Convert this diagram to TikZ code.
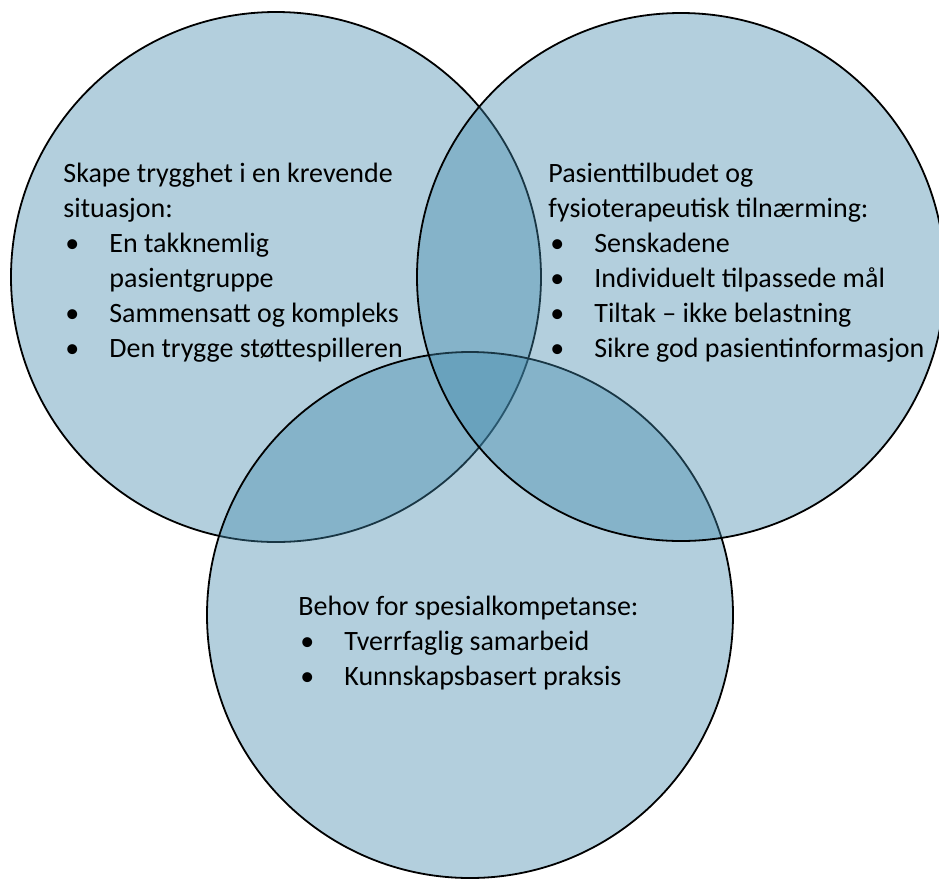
\documentclass[tikz,border=0pt]{standalone}
\usepackage{fontspec}
\setmainfont{Carlito}
\definecolor{venn}{RGB}{64,136,171}
\newcommand{\punkt}{\makebox[23pt][l]{\hspace{1pt}\textbullet}}
\newcommand{\innrykk}{\hspace{23pt}}

\begin{document}
\begin{tikzpicture}[x=0.5pt, y=-0.5pt,
    sirkel/.style={draw=black, line width=0.9pt, fill=venn, fill opacity=0.4},
    linje/.style={anchor=base west, inner sep=0pt, font=\fontsize{14}{17.5}\selectfont}]
    \useasboundingbox (0,0) rectangle (939,880);

    \draw[sirkel] (276,277) circle (265);
    \draw[sirkel] (470,615) circle (263);
    \draw[sirkel] (681,277) circle (264);

    \foreach \txt [count=\i] in {Skape trygghet i en krevende, situasjon:,
        \punkt En takknemlig, \innrykk pasientgruppe,
        \punkt Sammensatt og kompleks, \punkt Den trygge støttespilleren}
        \node[linje] (skape\i) at (63,182+35*\i-35) {\txt};

    \foreach \txt [count=\i] in {Pasienttilbudet og, fysioterapeutisk tilnærming:,
        \punkt Senskadene, \punkt Individuelt tilpassede mål,
        \punkt Tiltak – ikke belastning, \punkt Sikre god pasientinformasjon}
        \node[linje] (tilbud\i) at (548,182+35*\i-35) {\txt};

    \foreach \txt [count=\i] in {Behov for spesialkompetanse:,
        \punkt Tverrfaglig samarbeid, \punkt Kunnskapsbasert praksis}
        \node[linje] (behov\i) at (298,615+35*\i-35) {\txt};
\end{tikzpicture}
\end{document}
